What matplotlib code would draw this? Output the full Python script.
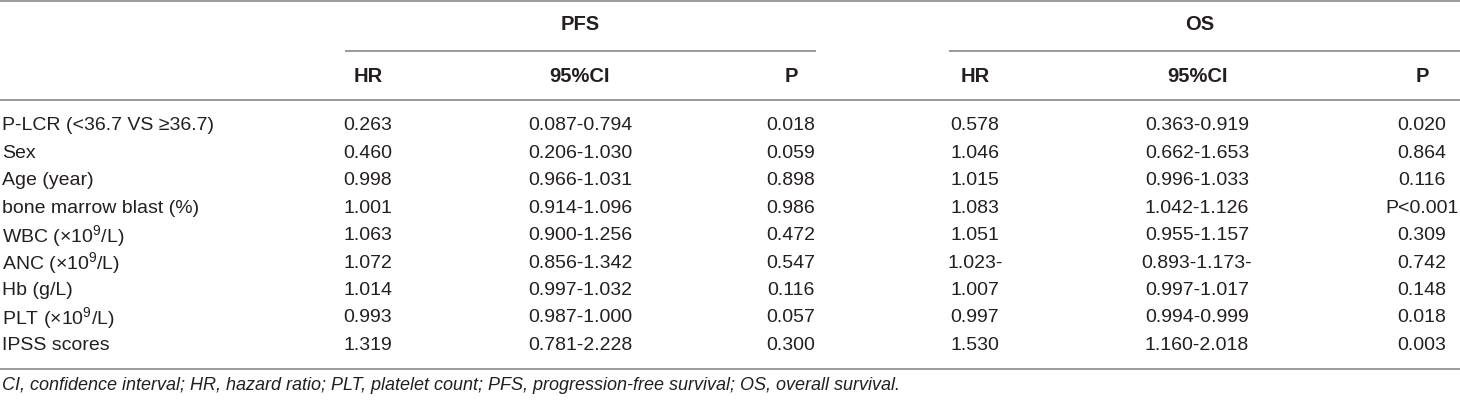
import matplotlib
matplotlib.use("Agg")
import matplotlib.pyplot as plt

plt.rcParams['font.family'] = ['Liberation Sans', 'DejaVu Sans']
plt.rcParams['mathtext.fontset'] = 'custom'
plt.rcParams['mathtext.rm'] = 'Liberation Sans'
plt.rcParams['mathtext.it'] = 'Liberation Sans:italic'

# table content
variables = ["P-LCR (<36.7 VS \u226536.7)", "Sex", "Age (year)", "bone marrow blast (%)",
             "WBC (\u00d710$^{9}$/L)", "ANC (\u00d710$^{9}$/L)", "Hb (g/L)",
             "PLT (\u00d710$^{9}$/L)", "IPSS scores"]
pfs_hr = ["0.263", "0.460", "0.998", "1.001", "1.063", "1.072", "1.014", "0.993", "1.319"]
pfs_ci = ["0.087-0.794", "0.206-1.030", "0.966-1.031", "0.914-1.096", "0.900-1.256",
          "0.856-1.342", "0.997-1.032", "0.987-1.000", "0.781-2.228"]
pfs_p = ["0.018", "0.059", "0.898", "0.986", "0.472", "0.547", "0.116", "0.057", "0.300"]
os_hr = ["0.578", "1.046", "1.015", "1.083", "1.051", "1.023-", "1.007", "0.997", "1.530"]
os_ci = ["0.363-0.919", "0.662-1.653", "0.996-1.033", "1.042-1.126", "0.955-1.157",
         "0.893-1.173-", "0.997-1.017", "0.994-0.999", "1.160-2.018"]
os_p = ["0.020", "0.864", "0.116", "P<0.001", "0.309", "0.742", "0.148", "0.018", "0.003"]
sub_headers = ["HR", "95%CI", "P"]
groups = ["PFS", "OS"]
footnote = ("CI, confidence interval; HR, hazard ratio; PLT, platelet count; "
            "PFS, progression-free survival; OS, overall survival.")

W, H = 1460, 400
fig = plt.figure(figsize=(W / 100, H / 100), dpi=100)
ax = fig.add_axes([0, 0, 1, 1])
ax.set_xlim(0, W)
ax.set_ylim(H, 0)
ax.axis('off')

txt = '#231f20'
rule = '#9a9a9a'
fs = 14

col_x = [368, 580, 791, 975, 1197, 1422]
grp_x = [580, 1200]
grp_span = [(345, 816), (949, 1460)]
row_y0, row_dy = 126, 27.4

# rules
for y in (1, 100, 369):
    ax.plot([0, W], [y, y], color=rule, lw=1.4, solid_capstyle='butt')
for x0, x1 in grp_span:
    ax.plot([x0, x1], [51, 51], color=rule, lw=1.4, solid_capstyle='butt')

# headers
for g, x in zip(groups, grp_x):
    ax.text(x, 25, g, ha='center', va='center', fontsize=14.5, fontweight='bold', color=txt)
for i, x in enumerate(col_x):
    ax.text(x, 76, sub_headers[i % 3], ha='center', va='center', fontsize=14.5,
            fontweight='bold', color=txt)

# body
cols = [pfs_hr, pfs_ci, pfs_p, os_hr, os_ci, os_p]
for r, name in enumerate(variables):
    y = row_y0 + r * row_dy
    ax.text(2, y, name, ha='left', va='center', fontsize=fs, color=txt)
    for x, col in zip(col_x, cols):
        ax.text(x, y, col[r], ha='center', va='center', fontsize=fs, color=txt)

ax.text(2, 386, footnote, ha='left', va='center', fontsize=13, style='italic', color=txt)

fig.savefig("out.png", dpi=100)
